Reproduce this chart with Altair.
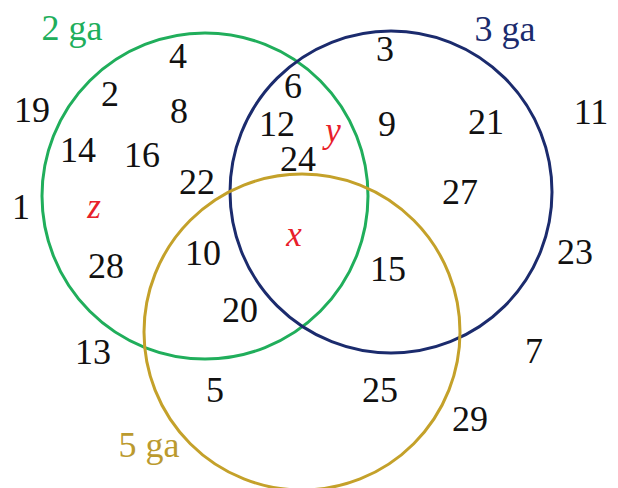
import altair as alt
import pandas as pd

# --- data: numbers 1..29 placed in Venn regions (divisible by 2, 3, 5) ---
numbers = ["19", "4", "2", "8", "14", "16", "22", "1", "28", "10", "20", "13", "5",
           "6", "12", "24", "3", "9", "21", "11", "27", "15", "23", "7", "25", "29"]
unknowns = ["z", "y", "x"]
set_names = ["2 ga", "3 ga", "5 ga"]
set_colors = ["#20ae5b", "#1b2b6d", "#c4a12a"]
label_colors = ["#20ae5b", "#1b2b6d", "#bb9a2e"]

# --- layout (screen pixel positions) ---
num_x = [32, 178, 110, 179, 78, 142, 197, 21, 106, 203, 240, 93, 215,
         293, 277, 298, 385, 387, 486, 591, 460, 388, 575, 534, 380, 470]
num_y = [111, 57, 95, 112, 151, 156, 183, 208, 267, 254, 311, 353, 391,
         87, 125, 160, 50, 125, 123, 113, 193, 270, 253, 352, 391, 420]
unk_x = [94, 333, 294]
unk_y = [207, 131, 235]
circ_cx = [205, 391, 302]
circ_cy = [196, 192, 332]
circ_r = [163, 161, 158]
lab_x = [72, 505, 149]
lab_y = [29, 30, 446]

W, H = 602, 480
xs = alt.Scale(domain=[8, 8 + W])
ys = alt.Scale(domain=[8, 8 + H], reverse=True)

circles = pd.DataFrame({
    "name": set_names, "cx": circ_cx, "cy": circ_cy,
    "size": [(2 * r) ** 2 for r in circ_r], "color": set_colors,
})
nums = pd.DataFrame({"t": numbers, "x": num_x, "y": num_y})
unk = pd.DataFrame({"t": unknowns, "x": unk_x, "y": unk_y})
labs = pd.DataFrame({"t": set_names, "x": lab_x, "y": lab_y, "color": label_colors})

base_font = "Liberation Serif"

c_layer = alt.Chart(circles).mark_point(shape="circle", filled=False, strokeWidth=3,
                                        clip=True, opacity=1).encode(
    x=alt.X("cx:Q", scale=xs, axis=None),
    y=alt.Y("cy:Q", scale=ys, axis=None),
    size=alt.Size("size:Q", scale=None, legend=None),
    stroke=alt.Color("color:N", scale=None, legend=None),
)

n_layer = alt.Chart(nums).mark_text(font=base_font, fontSize=36, color="#111111",
                                    align="center", baseline="middle").encode(
    x=alt.X("x:Q", scale=xs, axis=None),
    y=alt.Y("y:Q", scale=ys, axis=None),
    text="t:N",
)

u_layer = alt.Chart(unk).mark_text(font=base_font, fontSize=35, fontStyle="italic",
                                   color="#e8202a", align="center",
                                   baseline="middle").encode(
    x=alt.X("x:Q", scale=xs, axis=None),
    y=alt.Y("y:Q", scale=ys, axis=None),
    text="t:N",
)

l_layer = alt.Chart(labs).mark_text(font=base_font, fontSize=36, align="center",
                                    baseline="middle").encode(
    x=alt.X("x:Q", scale=xs, axis=None),
    y=alt.Y("y:Q", scale=ys, axis=None),
    text="t:N",
    color=alt.Color("color:N", scale=None, legend=None),
)

chart = alt.layer(c_layer, n_layer, u_layer, l_layer).properties(
    width=W, height=H, padding=0,
    autosize=alt.AutoSizeParams(type="none"),
).configure_view(stroke=None)

chart.save("out.html", embed_options={"renderer": "svg", "actions": False})
